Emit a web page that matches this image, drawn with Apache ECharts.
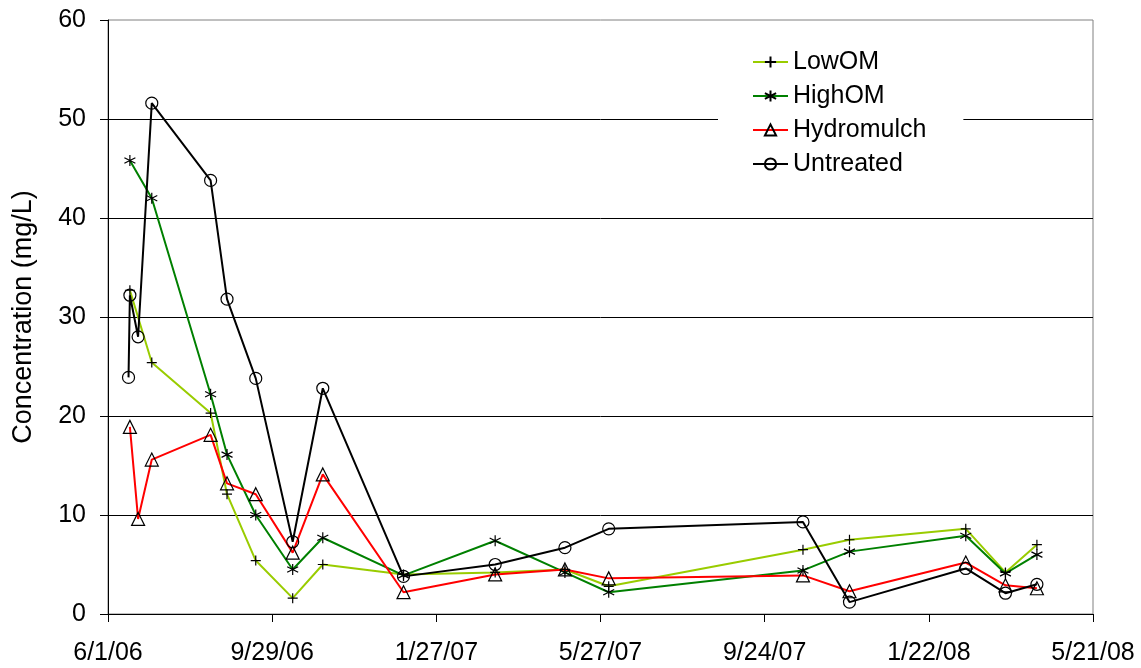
<!DOCTYPE html>
<html>
<head>
<meta charset="utf-8">
<title>Concentration (mg/L)</title>
<script src="https://cdn.jsdelivr.net/npm/echarts@6/dist/echarts.min.js"></script>
<style>
  html, body { margin: 0; padding: 0; background: #fff; }
  #chart { width: 1141px; height: 668px; }
</style>
</head>
<body>
<div id="chart"></div>
<script>
// Sampling dates (M/D/YY) and concentrations in mg/L for each treatment
const lowOMDates = ['6/17/06', '7/3/06', '8/15/06', '8/27/06', '9/17/06', '10/14/06', '11/5/06', '1/3/07', '3/11/07', '5/1/07', '6/2/07', '10/22/07', '11/25/07', '2/18/08', '3/18/08', '4/10/08'];
const lowOMValues = [32.7, 25.4, 20.3, 12.1, 5.4, 1.6, 5.0, 4.0, 4.2, 4.5, 2.8, 6.5, 7.5, 8.6, 4.2, 7.0];

const highOMDates = ['6/17/06', '7/3/06', '8/15/06', '8/27/06', '9/17/06', '10/14/06', '11/5/06', '1/3/07', '3/11/07', '5/1/07', '6/2/07', '10/22/07', '11/25/07', '2/18/08', '3/18/08', '4/10/08'];
const highOMValues = [45.8, 42.0, 22.2, 16.1, 10.0, 4.5, 7.7, 3.9, 7.4, 4.2, 2.2, 4.4, 6.3, 7.9, 4.1, 6.0];

const hydromulchDates = ['6/17/06', '6/23/06', '7/3/06', '8/15/06', '8/27/06', '9/17/06', '10/14/06', '11/5/06', '1/3/07', '3/11/07', '5/1/07', '6/2/07', '10/22/07', '11/25/07', '2/18/08', '3/18/08', '4/10/08'];
const hydromulchValues = [18.9, 9.6, 15.6, 18.1, 13.2, 12.1, 6.2, 14.1, 2.2, 4.0, 4.5, 3.6, 3.9, 2.3, 5.2, 2.9, 2.6];

const untreatedDates = ['6/16/06', '6/17/06', '6/23/06', '7/3/06', '8/15/06', '8/27/06', '9/17/06', '10/14/06', '11/5/06', '1/3/07', '3/11/07', '5/1/07', '6/2/07', '10/22/07', '11/25/07', '2/18/08', '3/18/08', '4/10/08'];
const untreatedValues = [23.9, 32.2, 28.0, 51.6, 43.8, 31.8, 23.8, 7.3, 22.8, 3.8, 5.0, 6.7, 8.6, 9.3, 1.2, 4.6, 2.1, 3.0];

// Date axis: starts 6/1/06, a tick every 120 days up to 5/21/08
const axisStart = '6/1/06';
const axisEnd = '5/21/08';
const tickDays = 120;

const DAY_MS = 86400000;
function parseDate(s) {
  const [m, d, y] = s.split('/').map(Number);
  return Date.UTC(2000 + y, m - 1, d);
}
const originMs = parseDate(axisStart);
const toDay = s => (parseDate(s) - originMs) / DAY_MS;
function dayLabel(v) {
  const dt = new Date(originMs + v * DAY_MS);
  const yy = String(dt.getUTCFullYear() % 100).padStart(2, '0');
  return (dt.getUTCMonth() + 1) + '/' + dt.getUTCDate() + '/' + yy;
}
const pairs = (dates, vals) => dates.map((d, i) => [toDay(d), vals[i]]);

const FONT = '"Liberation Sans", Arial, sans-serif';
const plusPath = 'path://M5,0L5,10M0,5L10,5';
const starPath = 'path://M5,0L5,10M0.7,2.5L9.3,7.5M0.7,7.5L9.3,2.5';

function makeSeries(name, color, symbol, size, data) {
  return {
    name: name,
    type: 'line',
    data: data,
    color: color,
    symbol: symbol,
    symbolSize: size,
    showAllSymbol: true,
    lineStyle: { color: color, width: 2 },
    itemStyle: { color: 'transparent', borderColor: '#000', borderWidth: 1.2 },
    emphasis: { disabled: true },
    z: 2
  };
}

const chart = echarts.init(document.getElementById('chart'), null, { renderer: 'canvas' });
chart.setOption({
  animation: false,
  backgroundColor: '#fff',
  textStyle: { fontFamily: FONT },
  grid: {
    left: 108, top: 20, right: 48, bottom: 54,
    containLabel: false,
    outerBoundsMode: 'none',
    show: true, borderColor: '#808080', borderWidth: 1, backgroundColor: 'transparent'
  },
  legend: {
    orient: 'vertical',
    left: 718,
    top: 41,
    padding: [8, 37, 8, 34],
    backgroundColor: '#fff',
    itemWidth: 35,
    itemHeight: 14,
    itemGap: 8,
    textStyle: { fontFamily: FONT, fontSize: 25, color: '#000', lineHeight: 26 },
    data: ['LowOM', 'HighOM', 'Hydromulch', 'Untreated']
  },
  xAxis: {
    type: 'value',
    min: 0,
    max: toDay(axisEnd),
    interval: tickDays,
    axisLine: { show: true, lineStyle: { color: '#000', width: 1 } },
    axisTick: { show: true, inside: false, length: 8, lineStyle: { color: '#000' } },
    axisLabel: {
      formatter: dayLabel, fontFamily: FONT, fontSize: 25, color: '#000', margin: 27,
      showMinLabel: true, showMaxLabel: true, hideOverlap: false
    },
    splitLine: { show: false }
  },
  yAxis: {
    type: 'value',
    min: 0,
    max: 60,
    interval: 10,
    name: 'Concentration (mg/L)',
    nameLocation: 'middle',
    nameGap: 71,
    nameTextStyle: { fontFamily: FONT, fontSize: 27, color: '#000' },
    axisLine: { show: true, lineStyle: { color: '#000', width: 1 } },
    axisTick: { show: true, inside: false, length: 8, lineStyle: { color: '#000' } },
    axisLabel: { fontFamily: FONT, fontSize: 25, color: '#000', margin: 22 },
    splitLine: { show: true, showMinLine: false, showMaxLine: false, lineStyle: { color: '#000', width: 1 } }
  },
  series: [
    makeSeries('LowOM', '#99CC00', plusPath, 10, pairs(lowOMDates, lowOMValues)),
    makeSeries('HighOM', '#008000', starPath, 11, pairs(highOMDates, highOMValues)),
    makeSeries('Hydromulch', '#FF0000', 'triangle', 13, pairs(hydromulchDates, hydromulchValues)),
    makeSeries('Untreated', '#000000', 'circle', 12, pairs(untreatedDates, untreatedValues))
  ]
});
</script>
</body>
</html>
